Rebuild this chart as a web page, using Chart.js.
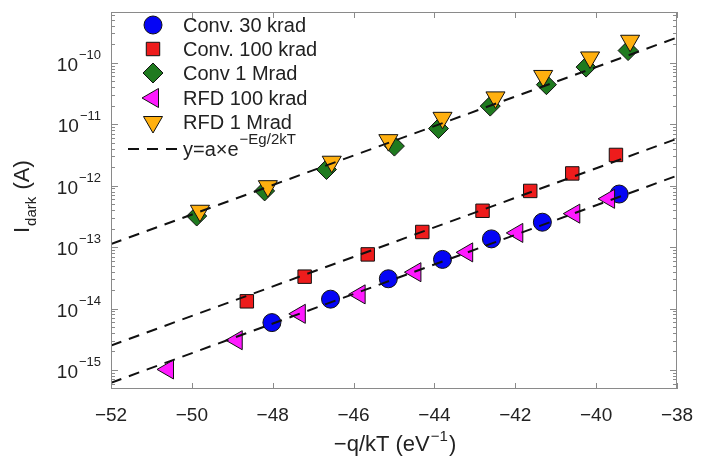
<!DOCTYPE html>
<html>
<head>
<meta charset="utf-8">
<script src="https://cdn.jsdelivr.net/npm/chart.js@4.4.0/dist/chart.umd.min.js"></script>
<style>
  html, body { margin: 0; padding: 0; background: #fff; }
</style>
</head>
<body>
<canvas id="idarkChart" width="716" height="461"></canvas>
<script>
// x = -q/kT (1/eV), y = I_dark (A)
const conv30kX = [-48.02, -46.57, -45.14, -43.80, -42.59, -41.33, -39.43];
const conv30kY = [5.9e-15, 1.42e-14, 3.05e-14, 6.3e-14, 1.36e-13, 2.54e-13, 7.3e-13];

const conv100kX = [-48.64, -47.21, -45.65, -44.30, -42.81, -41.63, -40.59, -39.51];
const conv100kY = [1.31e-14, 3.3e-14, 7.6e-14, 1.76e-13, 3.9e-13, 8.2e-13, 1.58e-12, 3.16e-12];

const conv1MX = [-49.88, -48.20, -46.67, -44.99, -43.90, -42.62, -41.23, -40.25, -39.21];
const conv1MY = [3.2e-13, 8.2e-13, 1.83e-12, 4.4e-12, 8.5e-12, 1.97e-11, 4.4e-11, 8.5e-11, 1.58e-10];

const rfd100kX = [-50.59, -48.89, -47.33, -45.85, -44.47, -43.19, -41.95, -40.54, -39.68];
const rfd100kY = [1.02e-15, 3.05e-15, 8.2e-15, 1.7e-14, 3.9e-14, 8.2e-14, 1.7e-13, 3.5e-13, 6.1e-13];

const rfd1MX = [-49.80, -48.12, -46.54, -45.14, -43.80, -42.49, -41.31, -40.15, -39.16];
const rfd1MY = [3.9e-13, 9.8e-13, 2.45e-12, 5.5e-12, 1.27e-11, 2.73e-11, 6.1e-11, 1.22e-10, 2.28e-10];

// dashed fits y = a*exp(-Eg/2kT), end points at the axis limits
const fitX = [-52, -38];
const fitUpper = [1.12e-13, 2.57e-10];
const fitMiddle = [2.5e-15, 5.8e-12];
const fitLower = [6.2e-16, 1.45e-12];

const xTicks = [-52, -50, -48, -46, -44, -42, -40, -38];
const yTickExps = [-10, -11, -12, -13, -14, -15];

const seriesNames = ['Conv. 30 krad', 'Conv. 100 krad', 'Conv 1 Mrad', 'RFD 100 krad', 'RFD 1 Mrad'];
const fitLabel = 'y=a\u00d7e';
const fitLabelExp = '\u2212Eg/2kT';

const FONT = '"Liberation Sans", Arial, Helvetica, sans-serif';
const TEXT = '#222';
const FRAME = '#8a8a8a';

const pts = (xs, ys) => xs.map((x, i) => ({ x: x, y: ys[i] }));

function markerSet(label, xs, ys, color, style, radius, rotation, order) {
  return {
    label: label,
    data: pts(xs, ys),
    pointStyle: style,
    pointRadius: radius,
    pointHoverRadius: radius,
    pointRotation: rotation,
    pointBackgroundColor: color,
    pointBorderColor: '#111',
    pointBorderWidth: 1,
    showLine: false,
    order: order
  };
}

function fitSet(ys) {
  return {
    label: 'fit',
    data: pts(fitX, ys),
    showLine: true,
    borderColor: '#111',
    borderWidth: 2,
    borderDash: [11, 8],
    pointRadius: 0,
    fill: false,
    order: 0
  };
}

const datasets = [
  markerSet(seriesNames[0], conv30kX, conv30kY, '#0505f5', 'circle', 9, 0, 5),
  markerSet(seriesNames[1], conv100kX, conv100kY, '#ee1c1c', 'rect', 9.5, 0, 4),
  markerSet(seriesNames[2], conv1MX, conv1MY, '#1f7a1f', 'rectRot', 10, 0, 3),
  markerSet(seriesNames[3], rfd100kX, rfd100kY, '#ff1aff', 'triangle', 11, -90, 2),
  markerSet(seriesNames[4], rfd1MX, rfd1MY, '#ffb00f', 'triangle', 11, 180, 1),
  fitSet(fitUpper),
  fitSet(fitMiddle),
  fitSet(fitLower)
];

function drawMarker(ctx, ds, x, y) {
  ctx.save();
  ctx.fillStyle = ds.pointBackgroundColor;
  ctx.strokeStyle = ds.pointBorderColor;
  ctx.lineWidth = ds.pointBorderWidth;
  Chart.helpers.drawPoint(ctx, {
    pointStyle: ds.pointStyle,
    radius: ds.pointRadius,
    rotation: ds.pointRotation,
    borderWidth: ds.pointBorderWidth
  }, x, y);
  ctx.restore();
}

/* ================= FRAME, TICKS, LABELS, LEGEND ================= */
const decorPlugin = {
  id: 'decor',
  afterDraw(chart) {
    const ctx = chart.ctx;
    const a = chart.chartArea;
    const xs = chart.scales.x;
    const ys = chart.scales.y;
    ctx.save();

    // frame
    ctx.strokeStyle = FRAME;
    ctx.lineWidth = 1;
    ctx.strokeRect(a.left + 0.5, a.top + 0.5, a.right - a.left - 1, a.bottom - a.top - 1);

    // x ticks (inward, bottom and top)
    ctx.beginPath();
    xTicks.forEach(v => {
      const px = Math.round(xs.getPixelForValue(v)) + 0.5;
      ctx.moveTo(px, a.bottom); ctx.lineTo(px, a.bottom - 6);
      ctx.moveTo(px, a.top); ctx.lineTo(px, a.top + 6);
    });
    // y ticks, decades and minors, left and right
    for (let e = -16; e <= -9; e++) {
      for (let m = 1; m <= 9; m++) {
        const v = m * Math.pow(10, e);
        if (v < ys.min || v > ys.max) continue;
        const py = Math.round(ys.getPixelForValue(v)) + 0.5;
        const len = m === 1 ? 7 : 4;
        ctx.moveTo(a.left, py); ctx.lineTo(a.left + len, py);
        ctx.moveTo(a.right, py); ctx.lineTo(a.right - len, py);
      }
    }
    ctx.stroke();

    ctx.fillStyle = TEXT;
    ctx.textBaseline = 'alphabetic';

    // x tick labels
    ctx.font = '19px ' + FONT;
    ctx.textAlign = 'center';
    xTicks.forEach(v => {
      ctx.fillText('\u2212' + Math.abs(v), xs.getPixelForValue(v), 421);
    });

    // y tick labels 10^n
    ctx.textAlign = 'left';
    yTickExps.forEach(e => {
      const py = ys.getPixelForValue(Math.pow(10, e));
      const expTxt = '\u2212' + Math.abs(e);
      ctx.font = '19px ' + FONT;
      const wb = ctx.measureText('10').width;
      ctx.font = '13px ' + FONT;
      const we = ctx.measureText(expTxt).width;
      const x0 = a.left - 10 - wb - we - 1;
      ctx.font = '19px ' + FONT;
      ctx.fillText('10', x0, py + 8);
      ctx.font = '13px ' + FONT;
      ctx.fillText(expTxt, x0 + wb + 1, py - 4);
    });

    // x title: -q/kT (eV^-1)
    const t1 = '\u2212q/kT (eV', t2 = '\u22121', t3 = ')';
    ctx.font = '22px ' + FONT;
    const w1 = ctx.measureText(t1).width, w3 = ctx.measureText(t3).width;
    ctx.font = '15px ' + FONT;
    const w2 = ctx.measureText(t2).width;
    let tx = (a.left + a.right) / 2 - (w1 + w2 + w3) / 2;
    ctx.font = '22px ' + FONT;
    ctx.fillText(t1, tx, 451);
    ctx.font = '15px ' + FONT;
    ctx.fillText(t2, tx + w1 + 1, 441);
    ctx.font = '22px ' + FONT;
    ctx.fillText(t3, tx + w1 + w2 + 2, 451);

    // y title: I_dark (A)
    ctx.save();
    ctx.translate(29, 233);
    ctx.rotate(-Math.PI / 2);
    ctx.font = '22px ' + FONT;
    const wI = ctx.measureText('I').width;
    ctx.fillText('I', 0, 0);
    ctx.font = '15px ' + FONT;
    const wd = ctx.measureText('dark').width;
    ctx.fillText('dark', wI + 1, 7);
    ctx.font = '22px ' + FONT;
    ctx.fillText(' (A)', wI + wd + 2, 0);
    ctx.restore();

    // legend
    const rowY = [25, 49, 73, 98, 122];
    ctx.font = '20px ' + FONT;
    ctx.textBaseline = 'middle';
    for (let i = 0; i < 5; i++) {
      drawMarker(ctx, chart.data.datasets[i], 153, rowY[i]);
      ctx.fillStyle = TEXT;
      ctx.fillText(chart.data.datasets[i].label, 183, rowY[i] + 1);
    }
    const fy = 149;
    ctx.save();
    ctx.strokeStyle = '#111';
    ctx.lineWidth = 2;
    ctx.setLineDash([11, 8]);
    ctx.beginPath();
    ctx.moveTo(128, fy); ctx.lineTo(180, fy);
    ctx.stroke();
    ctx.restore();
    ctx.fillStyle = TEXT;
    ctx.font = '20px ' + FONT;
    ctx.fillText(fitLabel, 183, fy + 1);
    const wf = ctx.measureText(fitLabel).width;
    ctx.font = '15px ' + FONT;
    ctx.fillText(fitLabelExp, 183 + wf + 1, fy - 9);

    ctx.restore();
  }
};

new Chart(document.getElementById('idarkChart').getContext('2d'), {
  type: 'scatter',
  data: { datasets: datasets },
  options: {
    responsive: false,
    animation: false,
    layout: { padding: { left: 111, right: 39, top: 3, bottom: 72 } },
    plugins: {
      legend: { display: false },
      tooltip: { enabled: false }
    },
    scales: {
      x: { type: 'linear', min: -52, max: -38, display: false },
      y: { type: 'logarithmic', min: 4.9e-16, max: 6.7e-10, display: false }
    }
  },
  plugins: [decorPlugin]
});
</script>
</body>
</html>
